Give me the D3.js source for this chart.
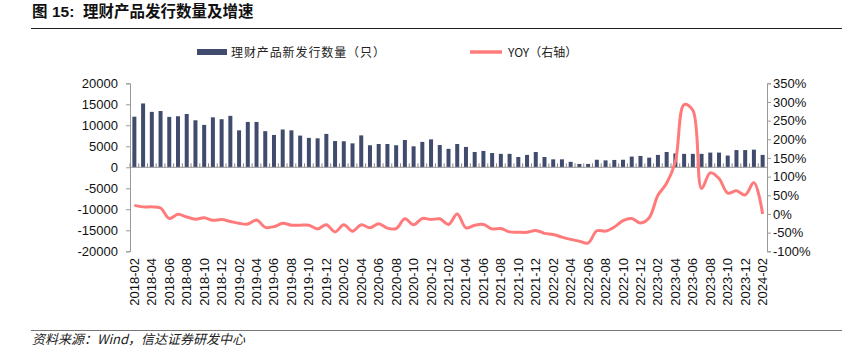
<!DOCTYPE html>
<html><head><meta charset="utf-8">
<script src="https://cdn.jsdelivr.net/npm/d3@7"></script>
<style>
body{margin:0;background:#fff;}
svg{display:block;font-family:"Liberation Sans",Arial,sans-serif;}
</style></head>
<body><svg id="c" width="850" height="360"></svg>
<script>
// ---- data ----
const months = (function(){const a=[];for(let y=2018;y<=2024;y++){for(let m=1;m<=12;m++){const s=y+"-"+String(m).padStart(2,"0");if(s>="2018-02"&&s<="2024-02")a.push(s);}}return a;})();
const issuance = [12050,15200,13200,13400,12000,12150,12700,11200,10100,11900,11450,12250,8800,10800,10800,8600,7700,9000,
  8800,7550,7000,6900,7950,6250,6200,5700,7600,5250,5550,5550,5250,6500,5000,6050,6650,5300,4400,
  5550,4850,3650,3900,3400,3200,3200,2450,2950,3650,2450,1900,1900,1300,800,800,1800,1650,
  1750,1800,2550,2700,2300,2950,3650,3300,3200,3200,3200,3500,3500,2800,4100,4100,4200,2950];
const yoy = [23,19,19,16,-12,-1,-8,-14,-10,-17,-15,-20,-25,-27,-16,-36,-34,-25,-30,-30,-30,-40,-29,-48,-29,-46,-29,-37,-26,-38,-39,-13,-29,-12,-15,
  -13,-28,0,-37,-30,-28,-40,-39,-48,-49,-49,-44,-52,-55,-62,-68,-73,-78,-45,-46,-35,-18,-12,-24,-10,50,82,140,293,278,68,110,95,56,62,51,84,0];
const leftTicks = [20000,15000,10000,5000,0,-5000,-10000,-15000,-20000];
const rightTicks = [350,300,250,200,150,100,50,0,-50,-100];
const xLabels = months.filter((d,i)=>i%2===0);

const svg = d3.select("#c");
const X0=130, X1=767, Y0=83.3, Y1=251.3;
const x = d3.scaleBand().domain(months).range([X0,X1]).padding(0);
const yL = d3.scaleLinear().domain([-20000,20000]).range([Y1,Y0]);
const yR = d3.scaleLinear().domain([-100,350]).range([Y1,Y0]);

// title
const t = svg.append("text").attr("y",17).attr("font-weight","bold").attr("font-size",15.5).attr("fill","#111")
  .attr("font-family","'Noto Sans CJK SC',sans-serif");
t.append("tspan").attr("x",32).text("图");
t.append("tspan").attr("x",52).attr("font-family","'Liberation Sans',Arial").text("15:");
t.append("tspan").attr("x",83).text("理财产品发行数量及增速");
svg.append("line").attr("x1",31).attr("x2",842).attr("y1",28.5).attr("y2",28.5).attr("stroke","#222").attr("stroke-width",1.2);

// footer
svg.append("line").attr("x1",31).attr("x2",842).attr("y1",330.5).attr("y2",330.5).attr("stroke","#777").attr("stroke-width",1);
svg.append("text").attr("x",32).attr("y",344).attr("font-size",13).attr("font-style","italic").attr("fill","#222")
  .attr("font-family","'Noto Sans CJK SC',sans-serif").text("资料来源：Wind，信达证券研发中心");

// legend
svg.append("rect").attr("x",197).attr("y",49).attr("width",30).attr("height",6).attr("fill","#414b6e");
svg.append("text").attr("x",231).attr("y",57).attr("font-size",12).attr("letter-spacing",0.9).attr("fill","#222")
  .attr("font-family","'Noto Sans CJK SC',sans-serif").text("理财产品新发行数量（只）");
svg.append("line").attr("x1",470).attr("x2",502).attr("y1",52).attr("y2",52).attr("stroke","#ff7b7b").attr("stroke-width",3.5);
svg.append("text").attr("x",508).attr("y",57).attr("font-size",12).attr("fill","#222")
  .attr("font-family","'Noto Sans CJK SC',sans-serif").text("YOY（右轴）");

// axes
const axL = d3.axisLeft(yL).tickValues(leftTicks).tickSize(4).tickFormat(d=>String(d));
const gL = svg.append("g").attr("transform",`translate(${X0},0)`).call(axL);
const axR = d3.axisRight(yR).tickValues(rightTicks).tickSize(4).tickFormat(d=>d+"%");
const gR = svg.append("g").attr("transform",`translate(${X1},0)`).call(axR);
[gL,gR].forEach(g=>{
  g.select(".domain").attr("stroke","#999");
  g.selectAll(".tick line").attr("stroke","#999");
  g.selectAll(".tick text").attr("font-size",13).attr("fill","#111").attr("font-family","'Liberation Sans',Arial");
});
gL.selectAll(".tick text").attr("x",-12);
gR.selectAll(".tick text").attr("x",6);

// bars
const bw = 4;
svg.append("g").selectAll("rect").data(issuance).join("rect")
  .attr("x",(d,i)=>x(months[i])+x.bandwidth()/2-bw/2)
  .attr("y",d=>yL(d)).attr("width",bw).attr("height",d=>yL(0)-yL(d))
  .attr("fill","#414b6e");

// x axis at zero
const y0=yL(0);
svg.append("line").attr("x1",X0).attr("x2",X1).attr("y1",y0).attr("y2",y0).attr("stroke","#999");
svg.append("g").selectAll("line").data(months).join("line")
  .attr("x1",d=>x(d)).attr("x2",d=>x(d)).attr("y1",y0).attr("y2",y0-4).attr("stroke","#888");
svg.append("g").selectAll("text").data(xLabels).join("text")
  .attr("transform",d=>`translate(${x(d)+x.bandwidth()/2+4.5},258) rotate(-90)`)
  .attr("text-anchor","end").attr("font-size",13).attr("fill","#111").text(d=>d);

// line
const line = d3.line().x((d,i)=>x(months[i])+x.bandwidth()/2).y(d=>yR(d)).curve(d3.curveCatmullRom.alpha(0.5));
svg.append("path").datum(yoy).attr("d",line).attr("fill","none").attr("stroke","#ff7b7b").attr("stroke-width",3);
</script></body></html>
